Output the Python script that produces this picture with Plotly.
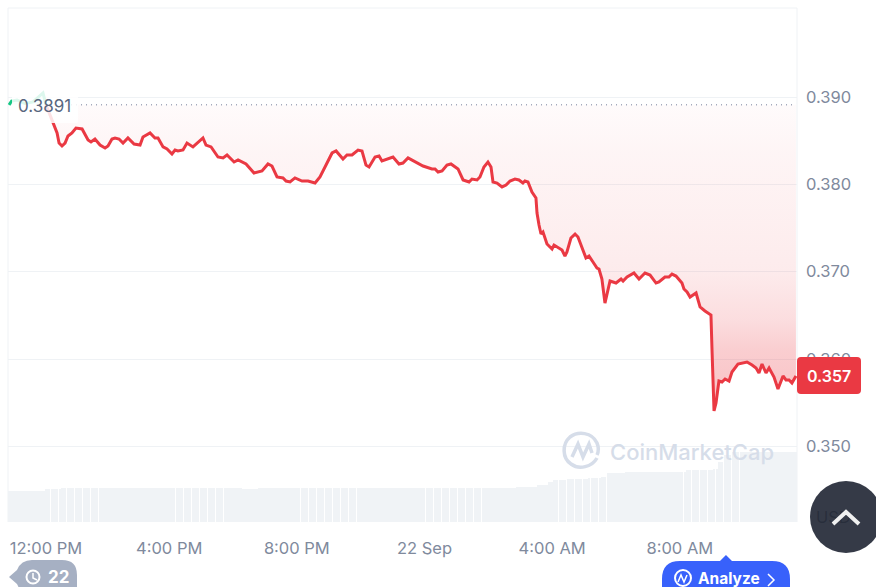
import pandas as pd
import plotly.graph_objects as go

# time is counted in 15 second steps from 12:00 PM on 21 Sep
START = pd.Timestamp("2023-09-21 12:00")
OPEN_PRICE = 0.3891
OPEN_LABEL = "0.3891"
LAST_LABEL = "0.357"

# first stretch, above the opening price (mostly under the label)
up_t = [-244, -225, -184, -124, -64, 11, 34]
up_price = [0.38910, 0.38954, 0.38966, 0.38925, 0.38943, 0.39046, 0.38910]

down_t = [34, 49, 94, 117, 132, 154, 177, 199, 229, 259, 305, 350, 372, 402, 440, 478, 500, 530, 553, 583,
          613, 650, 696, 741, 763, 793, 816, 853, 876, 914, 944, 981, 1004, 1026, 1064, 1094, 1139, 1214, 1237, 1275,
          1327, 1365, 1395, 1448, 1478, 1538, 1598, 1658, 1703, 1733, 1771, 1816, 1839, 1869, 1906, 1959, 2004, 2057, 2094, 2147,
          2185, 2215, 2267, 2297, 2335, 2380, 2410, 2440, 2463, 2508, 2538, 2560, 2605, 2643, 2688, 2718, 2756, 2808, 2869, 2936,
          2959, 2982, 3012, 3049, 3079, 3132, 3170, 3215, 3237, 3275, 3297, 3327, 3357, 3380, 3395, 3425, 3463, 3493, 3523, 3560,
          3590, 3620, 3635, 3658, 3688, 3718, 3726, 3741, 3756, 3771, 3801, 3839, 3854, 3914, 3936, 3951, 3981, 4012, 4034, 4094,
          4117, 4147, 4177, 4192, 4214, 4237, 4275, 4320, 4358, 4373, 4403, 4455, 4493, 4538, 4576, 4621, 4643, 4688, 4718, 4741,
          4771, 4816, 4831, 4854, 4877, 4922, 4952, 4989, 5034, 5042, 5057, 5072, 5094, 5117, 5140, 5170, 5192, 5237, 5275, 5305,
          5343, 5373, 5395, 5418, 5448, 5471, 5508, 5538, 5576, 5598, 5621, 5643, 5673]
down_price = [0.38910, 0.38851, 0.38679, 0.38588, 0.38473, 0.38439, 0.38473, 0.38553, 0.38588, 0.38645, 0.38634, 0.38508, 0.38485, 0.38519, 0.38450, 0.38416, 0.38439, 0.38519, 0.38531, 0.38519,
              0.38473, 0.38531, 0.38462, 0.38450, 0.38542, 0.38565, 0.38588, 0.38531, 0.38531, 0.38428, 0.38405, 0.38347, 0.38393, 0.38382, 0.38393, 0.38473, 0.38428, 0.38531, 0.38450, 0.38428,
              0.38313, 0.38302, 0.38336, 0.38256, 0.38279, 0.38233, 0.38130, 0.38153, 0.38233, 0.38210, 0.38084, 0.38073, 0.38038, 0.38027, 0.38073, 0.38038, 0.38038, 0.38015, 0.38084, 0.38244,
              0.38359, 0.38382, 0.38290, 0.38336, 0.38336, 0.38393, 0.38382, 0.38221, 0.38199, 0.38313, 0.38324, 0.38267, 0.38290, 0.38313, 0.38233, 0.38244, 0.38302, 0.38256, 0.38210, 0.38176,
              0.38176, 0.38141, 0.38153, 0.38221, 0.38233, 0.38176, 0.38050, 0.38027, 0.38061, 0.38050, 0.38084, 0.38199, 0.38256, 0.38199, 0.38027, 0.38015, 0.37970, 0.37992, 0.38038, 0.38061,
              0.38050, 0.38015, 0.38038, 0.38027, 0.37912, 0.37844, 0.37672, 0.37534, 0.37431, 0.37454, 0.37317, 0.37260, 0.37305, 0.37248, 0.37179, 0.37225, 0.37386, 0.37431, 0.37397, 0.37157,
              0.37179, 0.37111, 0.37042, 0.37031, 0.36916, 0.36641, 0.36893, 0.36870, 0.36916, 0.36893, 0.36939, 0.36985, 0.36916, 0.36985, 0.36962, 0.36870, 0.36882, 0.36939, 0.36939, 0.36973,
              0.36950, 0.36870, 0.36802, 0.36767, 0.36710, 0.36756, 0.36596, 0.36550, 0.36504, 0.36103, 0.35405, 0.35496, 0.35748, 0.35737, 0.35771, 0.35748, 0.35851, 0.35943, 0.35954, 0.35966,
              0.35931, 0.35897, 0.35840, 0.35943, 0.35840, 0.35897, 0.35794, 0.35657, 0.35806, 0.35760, 0.35760, 0.35725, 0.35806]

# volume is a flat run of 5 minute bars at each level
vol_levels = [31, 33, 34, 33, 34, 35, 37, 40, 42, 43, 44, 45, 49, 50, 52, 53, 60, 67, 70]
vol_counts = [14, 6, 68, 6, 97, 8, 4, 2, 5, 8, 5, 2, 7, 23, 10, 2, 2, 3, 25]

price_ticks = [0.35, 0.36, 0.37, 0.38, 0.39]
price_tick_labels = ["0.350", "0.360", "0.370", "0.380", "0.390"]
# first label sits a little right of its time, the chart nudges it away from the edge
time_ticks = [34, 960, 1920, 2880, 3840, 4800]
time_tick_labels = ["12:00 PM", "4:00 PM", "8:00 PM", "22 Sep", "4:00 AM", "8:00 AM"]

W, H = 876, 587
L, R, T, B = 8, 797, 8, 522
RED = "#ea3943"
GREEN = "#16c784"
GREY = "#808a9d"
GRID = "#eff2f5"


def to_time(steps):
    return [START + pd.Timedelta(seconds=15 * s) for s in steps]


def px(x):
    return (x - L) / (R - L)


def py(y):
    return (B - y) / (B - T)


def path(points):
    # points are (command, x, y, x, y...) in page pixels
    out = []
    for p in points:
        coords = []
        for i in range(1, len(p), 2):
            coords.append(f"{px(p[i]):.5f},{py(p[i + 1]):.5f}")
        out.append(p[0] + " ".join(coords))
    return " ".join(out)


def round_rect(x0, y0, x1, y1, r):
    return path([("M", x0 + r, y0), ("L", x1 - r, y0), ("Q", x1, y0, x1, y0 + r), ("L", x1, y1 - r),
                 ("Q", x1, y1, x1 - r, y1), ("L", x0 + r, y1), ("Q", x0, y1, x0, y1 - r), ("L", x0, y0 + r),
                 ("Q", x0, y0, x0 + r, y0)]) + " Z"


def page_shape(d, fill=None, line=None, width=0):
    return dict(type="path", xref="paper", yref="paper", path=d, fillcolor=fill, layer="above",
                line=dict(color=line, width=width))


def page_circle(cx, cy, r, fill=None, line=None, width=0):
    return dict(type="circle", xref="paper", yref="paper", x0=px(cx - r), x1=px(cx + r), y0=py(cy + r), y1=py(cy - r),
                fillcolor=fill, layer="above", line=dict(color=line, width=width))


def page_text(x, y, text, size, color, weight=400, anchor="center"):
    return dict(xref="paper", yref="paper", x=px(x), y=py(y), text=text, showarrow=False, xanchor=anchor, yanchor="middle",
                font=dict(family="Inter", size=size, color=color, weight=weight))


# bars every 20 steps from the left edge
vol_values = []
for level, count in zip(vol_levels, vol_counts):
    vol_values += [level] * count
vol_t = [-252 + 20 * i + 10 for i in range(len(vol_values))]

fig = go.Figure()

fig.add_trace(go.Bar(x=to_time(vol_t), y=vol_values, yaxis="y2", marker=dict(color="#f0f3f6", line=dict(width=0)), width=2.5 * 7.52 * 15000))

fig.add_trace(go.Scatter(x=to_time(up_t), y=up_price, mode="lines", fill="toself", fillcolor="rgba(22,199,132,0.10)",
                         line=dict(color=GREEN, width=3)))

# dotted opening price, the red fill closes against it
fig.add_trace(go.Scatter(x=to_time([down_t[0], down_t[-1]]), y=[OPEN_PRICE, OPEN_PRICE], mode="lines",
                         line=dict(color="#a1a7bb", width=1.5, dash="1px 4px")))
fig.add_trace(go.Scatter(x=to_time(down_t), y=down_price, mode="lines", fill="tonexty",
                         fillgradient=dict(type="vertical", start=OPEN_PRICE, stop=0.354,
                                           colorscale=[[0, "rgba(234,57,67,0.02)"], [0.15, "rgba(234,57,67,0.05)"],
                                                       [0.54, "rgba(234,57,67,0.10)"], [0.7, "rgba(234,57,67,0.17)"],
                                                       [0.8, "rgba(234,57,67,0.25)"], [1, "rgba(234,57,67,0.32)"]]),
                         line=dict(color=RED, width=3)))

shapes = [
    # frame of the plot
    dict(type="line", xref="paper", yref="paper", x0=0, x1=0, y0=0, y1=1, line=dict(color=GRID, width=1), layer="below"),
    dict(type="line", xref="paper", yref="paper", x0=0, x1=1, y0=1, y1=1, line=dict(color=GRID, width=1), layer="below"),
    dict(type="line", xref="paper", yref="paper", x0=1, x1=1, y0=0, y1=1, line=dict(color=GRID, width=1), layer="below"),
    # box behind the opening label
    page_shape(round_rect(12, 89, 78, 123, 2), fill="rgba(255,255,255,0.85)"),
    # last price tag
    page_shape(round_rect(797, 357, 861, 394, 4), fill=RED),
    # watermark logo
    page_shape(path([("M", 597, 458), ("C", 592, 467, 579, 470, 571, 464), ("C", 562, 458, 562, 444, 570, 437),
                     ("C", 578, 431, 592, 432, 597, 443), ("C", 599, 448, 598, 453, 597, 455)]),
               line="#d6dde9", width=3.5),
    page_shape(path([("M", 572, 457), ("L", 578, 444), ("L", 583, 457), ("L", 589, 444), ("L", 592, 453)]),
               line="#d6dde9", width=3.5),
    # scroll to top button, see through so the USD label shows under it
    page_circle(846, 517, 36, fill="rgba(42,47,61,0.95)"),
    page_shape(path([("M", 833, 524), ("L", 846, 512), ("L", 859, 524)]), line="#f0f0f0", width=4),
    # notes badge
    page_shape(path([("M", 9, 577), ("L", 17, 570), ("Q", 21, 560, 32, 560), ("L", 62, 560), ("Q", 77, 560, 77, 575),
                     ("L", 77, 590), ("L", 20, 590), ("L", 17, 584)]) + " Z", fill="#a6b0c3"),
    page_circle(33, 577, 6.5, line="white", width=2),
    page_shape(path([("M", 33, 573), ("L", 33, 578), ("L", 37, 580)]), line="white", width=1.5),
    # analyze button
    page_shape(path([("M", 720, 561), ("L", 726, 555), ("L", 732, 561), ("L", 772, 561), ("Q", 790, 561, 790, 579),
                     ("L", 790, 590), ("L", 662, 590), ("L", 662, 579), ("Q", 662, 561, 680, 561)]) + " Z", fill="#3861fb"),
    page_circle(683, 578, 8, line="white", width=2),
    page_shape(path([("M", 678, 582), ("L", 681, 575), ("L", 684, 582), ("L", 687, 575)]), line="white", width=1.5),
    page_shape(path([("M", 768, 574), ("L", 774, 580), ("L", 768, 586)]), line="white", width=1.5),
]

annotations = [
    page_text(16, 106, OPEN_LABEL, 17, "#58667e", anchor="left"),
    page_text(829, 376, LAST_LABEL, 16, "white", weight=600),
    page_text(692, 452, "CoinMarketCap", 22, "#d6dde9", weight=500),
    page_text(58, 577, "22", 17, "white", weight=700),
    page_text(729, 578, "Analyze", 15.5, "white", weight=700),
]

fig.update_layout(
    width=W, height=H, autosize=False,
    margin=dict(l=L, r=W - R, t=T, b=H - B, pad=0),
    paper_bgcolor="white", plot_bgcolor="white",
    showlegend=False, bargap=0,
    font=dict(family="Inter", size=16, color=GREY),
    xaxis=dict(range=to_time([-252, 5681]), tickvals=to_time(time_ticks), ticktext=time_tick_labels,
               showgrid=False, zeroline=False, showline=False, ticks="", ticklabelstandoff=14, tickangle=0,
               tickfont=dict(size=16.5, color=GREY)),
    yaxis=dict(range=[0.34134, 0.40019], side="right", tickvals=price_ticks, ticktext=price_tick_labels,
               showgrid=True, gridcolor=GRID, gridwidth=1, zeroline=False, showline=False, ticks="",
               ticklabelstandoff=8, tickfont=dict(size=16.5, color=GREY)),
    # one unit of volume is one pixel of plot height; the USD label sits on this axis
    yaxis2=dict(range=[0, 514], overlaying="y", side="right", showgrid=False, zeroline=False, showline=False, ticks="",
                tickvals=[5], ticktext=["USD"], ticklabelstandoff=18, tickfont=dict(size=16.5, color="#0d1421")),
    shapes=shapes,
    annotations=annotations,
)

fig.write_html("out.html", config=dict(displayModeBar=False), post_script="document.body.style.margin='0';")
